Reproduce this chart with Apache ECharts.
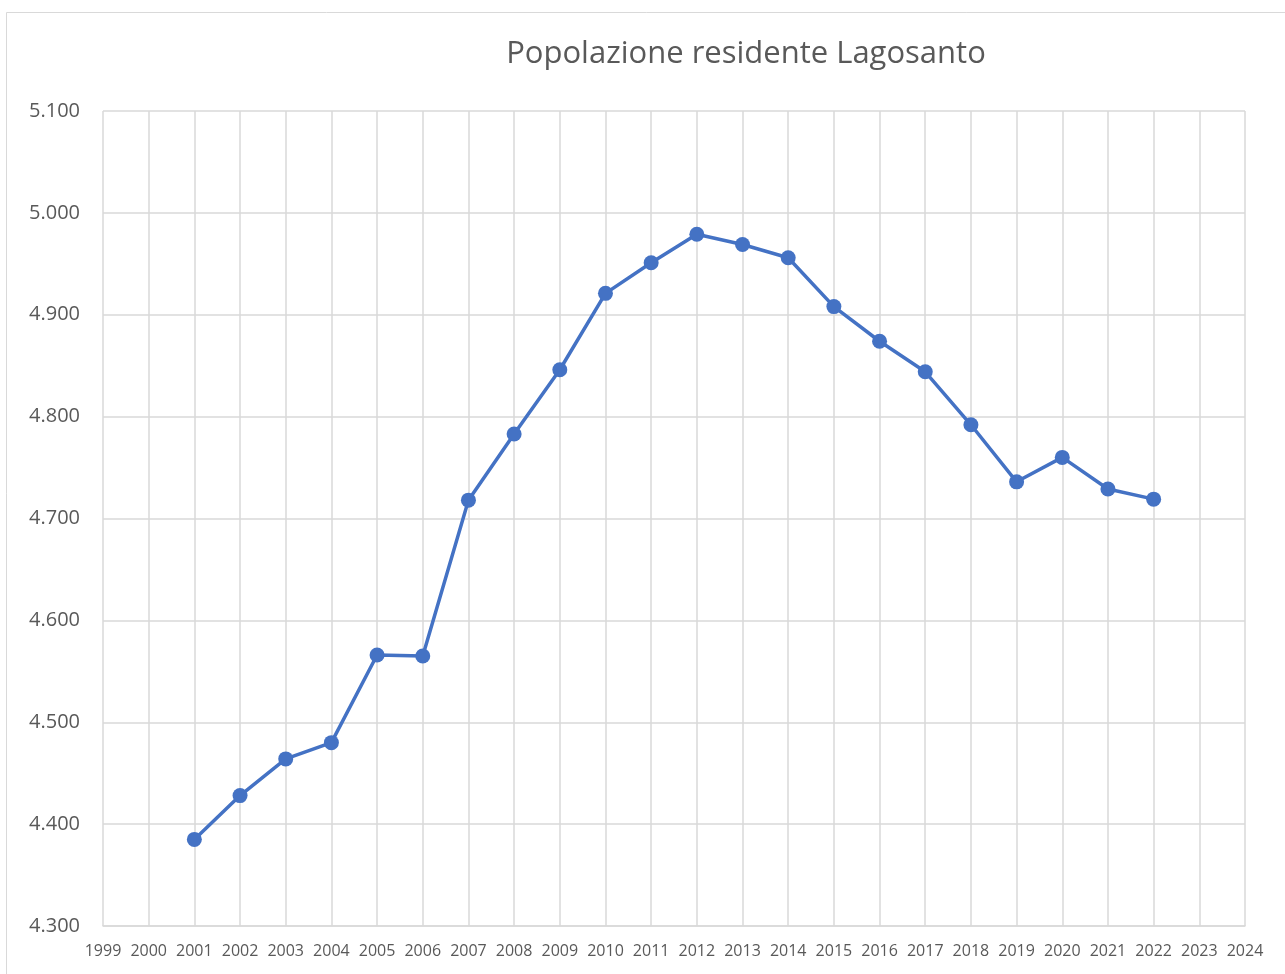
<!DOCTYPE html>
<html>
<head>
<meta charset="utf-8">
<script src="https://cdn.jsdelivr.net/npm/echarts@6/dist/echarts.min.js"></script>
<style>
  html, body { margin: 0; padding: 0; background: #fff; }
  #chart { width: 1285px; height: 974px; }
</style>
</head>
<body>
<div id="chart"></div>
<script>
var chartDom = document.getElementById("chart");
var chart = echarts.init(chartDom, null, { renderer: "canvas" });

// anni e popolazione residente
const years = [2001, 2002, 2003, 2004, 2005, 2006, 2007, 2008, 2009, 2010, 2011,
  2012, 2013, 2014, 2015, 2016, 2017, 2018, 2019, 2020, 2021, 2022];
const population = [4385, 4428, 4464, 4480, 4566, 4565, 4718, 4783, 4846, 4921, 4951,
  4979, 4969, 4956, 4908, 4874, 4844, 4792, 4736, 4760, 4729, 4719];

const titleText = "Popolazione residente Lagosanto";

var seriesData = [];
for (let i = 0; i < years.length; i++) {
  seriesData.push([years[i], population[i]]);
}

function fmtThousands(v) {
  return String(v).replace(/\B(?=(\d{3})+(?!\d))/g, ".");
}

var option = {
  backgroundColor: "#fff",
  animation: false,
  title: {
    text: titleText,
    left: 741,
    textAlign: "center",
    top: 34,
    textStyle: {
      fontFamily: "Open Sans",
      fontSize: 31,
      fontWeight: "normal",
      color: "#595959",
    },
  },
  graphic: [
    {
      type: "rect",
      shape: { x: 6.5, y: 12.5, width: 1290, height: 980 },
      style: { fill: "none", stroke: "#d9d9d9", lineWidth: 1 },
      silent: true,
    },
  ],
  grid: {
    left: 103,
    right: 40,
    top: 111,
    bottom: 48,
  },
  xAxis: {
    type: "value",
    min: 1999,
    max: 2024,
    interval: 1,
    axisLine: { show: true, lineStyle: { color: "#d9d9d9", width: 1.5 } },
    axisTick: { show: false },
    splitLine: { show: true, lineStyle: { color: "#d9d9d9", width: 1.5 } },
    axisLabel: {
      formatter: function (v) { return String(v); },
      fontFamily: "Open Sans",
      fontSize: 16,
      color: "#595959",
      margin: 17,
    },
  },
  yAxis: {
    type: "value",
    min: 4300,
    max: 5100,
    interval: 100,
    axisLine: { show: false },
    axisTick: { show: false },
    splitLine: { show: true, lineStyle: { color: "#d9d9d9", width: 1.5 } },
    axisLabel: {
      formatter: fmtThousands,
      fontFamily: "Open Sans",
      fontSize: 20,
      color: "#595959",
      margin: 23,
    },
  },
  series: [
    {
      name: "Popolazione",
      type: "line",
      data: seriesData,
      symbol: "circle",
      symbolSize: 15,
      lineStyle: { color: "#4472c4", width: 3.5 },
      itemStyle: { color: "#4472c4" },
    },
  ],
};

chart.setOption(option);

window.addEventListener("resize", function () {
  chart.resize();
});
</script>
</body>
</html>
